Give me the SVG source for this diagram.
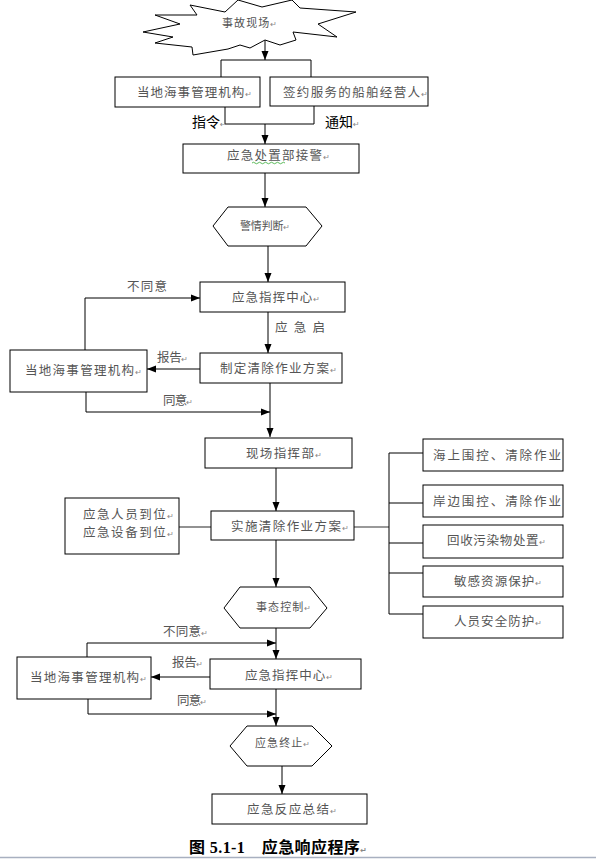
<svg xmlns="http://www.w3.org/2000/svg" width="596" height="859" viewBox="0 0 596 859">
<defs>
<marker id="ah" markerUnits="userSpaceOnUse" markerWidth="10" markerHeight="8" refX="9" refY="4" orient="auto">
<path d="M0,0.5 L9,4 L0,7.5 z" fill="#000"/>
</marker>
<style>
.box{fill:#fff;stroke:#000;stroke-width:1}
.ln{fill:none;stroke:#000;stroke-width:1}
.ar{fill:none;stroke:#000;stroke-width:1;marker-end:url(#ah)}
.gl{fill:none;stroke:#777;stroke-width:1.6}
.t{font-family:"Noto Sans CJK SC","Liberation Sans",sans-serif;font-size:12.5px;fill:#555}
.s{font-family:"Noto Sans CJK SC","Liberation Sans",sans-serif;font-size:11px;fill:#555}
.k{font-family:"Noto Sans CJK SC","Liberation Sans",sans-serif;font-size:14px;fill:#000}
.r{font-family:"DejaVu Sans",sans-serif;font-size:8px;fill:#888}
.cap{font-family:"Liberation Serif","Noto Sans CJK SC",serif;font-size:16px;font-weight:bold;fill:#000}
</style>
</defs>
<rect x="0" y="0" width="596" height="859" fill="#fff"/>

<g id="connectors">
<path class="ar" d="M265,40 V60"/>
<path class="ln" d="M221,77 V60 H311 V77"/>
<path class="ln" d="M225,107 V124 H314 V106"/>
<path class="ar" d="M265,124 V144"/>
<path class="ar" d="M265,173 V207"/>
<path class="ar" d="M268,246 V282"/>
<path class="ar" d="M268,312 V353"/>
<path class="ar" d="M200,369 H147"/>
<path class="ar" d="M85,351 V298 H200"/>
<path class="ar" d="M86,392 V412 H270"/>
<path class="ar" d="M270,383 V437"/>
<path class="ar" d="M276,468 V511"/>
<path class="gl" d="M179,527 H211"/>
<path class="gl" d="M354,527 H389"/>
<path class="ln" d="M389,453 V614 M389,453 H423 M389,503 H423 M389,543 H423 M389,573 H423 M389,614 H423"/>
<path class="ar" d="M276,540 V587"/>
<path class="ar" d="M276,628 V659"/>
<path class="ar" d="M87,657 V643 H276"/>
<path class="ar" d="M210,677 H151"/>
<path class="ar" d="M88,699 V714 H276"/>
<path class="ar" d="M276,689 V726"/>
<path class="ar" d="M282,766 V794"/>
</g>

<g id="n-accident">
<path class="box" d="M143,32 L180,24 L155,15 L197,15 L190,5 L225,12 L238,0 L262,7 L292,0 L300,8 L356,12 L318,24 L337,37 L293,32 L296,40 L280,45 L265,40 L250,48 L240,45 L228,49 L193,55 L192,47 L155,43 L173,37 Z"/>
<text class="s" x="222" y="27" textLength="55" lengthAdjust="spacing">事故现场<tspan class="r">↵</tspan></text>
</g>

<g id="n-msa1">
<rect class="box" x="115" y="77" width="145" height="30"/>
<text class="t" x="137" y="97" textLength="115" lengthAdjust="spacing">当地海事管理机构<tspan class="r">↵</tspan></text>
</g>
<g id="n-operator">
<rect class="box" x="270" y="77" width="158" height="29"/>
<text class="t" x="283" y="97" textLength="145" lengthAdjust="spacing">签约服务的船舶经营人<tspan class="r">↵</tspan></text>
</g>
<text class="k" x="192" y="127">指令<tspan class="r">↵</tspan></text>
<text class="k" x="325" y="127">通知<tspan class="r">↵</tspan></text>

<g id="n-receive">
<rect class="box" x="183" y="144" width="176" height="29"/>
<text class="t" x="227" y="160" textLength="103" lengthAdjust="spacing">应急处置部接警<tspan class="r">↵</tspan></text>
<path d="M252,163 q1.5,-1.5 3,0 t3,0 t3,0 t3,0 t3,0 t3,0 t3,0 t3,0 t3,0 t3,0 t3,0" fill="none" stroke="#3a3" stroke-width="0.8"/>
</g>

<g id="n-judge">
<polygon class="box" points="213,226 228,207 306,207 322,226 306,246 228,246"/>
<text class="s" x="240" y="230" textLength="50" lengthAdjust="spacing">警情判断<tspan class="r">↵</tspan></text>
</g>

<g id="n-command1">
<rect class="box" x="200" y="282" width="145" height="30"/>
<text class="t" x="232" y="302" textLength="88" lengthAdjust="spacing">应急指挥中心<tspan class="r">↵</tspan></text>
</g>
<text class="t" x="275" y="332" textLength="50" lengthAdjust="spacing">应急启</text>

<g id="n-plan">
<rect class="box" x="200" y="353" width="142" height="30"/>
<text class="t" x="220" y="373" textLength="117" lengthAdjust="spacing">制定清除作业方案<tspan class="r">↵</tspan></text>
</g>
<g id="n-msa2">
<rect class="box" x="10" y="350" width="137" height="42"/>
<text class="t" x="25" y="375" textLength="117" lengthAdjust="spacing">当地海事管理机构<tspan class="r">↵</tspan></text>
</g>
<text class="t" x="127" y="291" textLength="40" lengthAdjust="spacing">不同意</text>
<text class="t" x="157" y="362" textLength="31" lengthAdjust="spacing">报告<tspan class="r">↵</tspan></text>
<text class="t" x="163" y="405" textLength="30" lengthAdjust="spacing">同意<tspan class="r">↵</tspan></text>

<g id="n-site">
<rect class="box" x="205" y="438" width="147" height="30"/>
<text class="t" x="246" y="458" textLength="76" lengthAdjust="spacing">现场指挥部<tspan class="r">↵</tspan></text>
</g>

<g id="n-resources">
<rect class="box" x="65" y="498" width="114" height="56"/>
<text class="t" x="83" y="519" textLength="91" lengthAdjust="spacing">应急人员到位<tspan class="r">↵</tspan></text>
<text class="t" x="83" y="537" textLength="91" lengthAdjust="spacing">应急设备到位<tspan class="r">↵</tspan></text>
</g>

<g id="n-execute">
<rect class="box" x="211" y="511" width="143" height="29"/>
<text class="t" x="231" y="531" textLength="118" lengthAdjust="spacing">实施清除作业方案<tspan class="r">↵</tspan></text>
</g>

<g id="n-sea">
<rect class="box" x="423" y="439" width="140" height="32"/>
<text class="t" x="433" y="460" textLength="128" lengthAdjust="spacing">海上围控、清除作业</text>
</g>
<g id="n-shore">
<rect class="box" x="423" y="485" width="140" height="32"/>
<text class="t" x="433" y="506" textLength="128" lengthAdjust="spacing">岸边围控、清除作业</text>
</g>
<g id="n-waste">
<rect class="box" x="423" y="525" width="140" height="33"/>
<text class="t" x="447" y="545" textLength="99" lengthAdjust="spacing">回收污染物处置<tspan class="r">↵</tspan></text>
</g>
<g id="n-sensitive">
<rect class="box" x="423" y="566" width="140" height="31"/>
<text class="t" x="454" y="586" textLength="88" lengthAdjust="spacing">敏感资源保护<tspan class="r">↵</tspan></text>
</g>
<g id="n-safety">
<rect class="box" x="423" y="606" width="140" height="32"/>
<text class="t" x="454" y="626" textLength="88" lengthAdjust="spacing">人员安全防护<tspan class="r">↵</tspan></text>
</g>

<g id="n-control">
<polygon class="box" points="224,608 240,587 310,587 327,608 310,628 240,628"/>
<text class="s" x="256" y="611" textLength="55" lengthAdjust="spacing">事态控制<tspan class="r">↵</tspan></text>
</g>

<g id="n-msa3">
<rect class="box" x="17" y="657" width="134" height="42"/>
<text class="t" x="30" y="682" textLength="117" lengthAdjust="spacing">当地海事管理机构<tspan class="r">↵</tspan></text>
</g>
<g id="n-command2">
<rect class="box" x="210" y="659" width="151" height="30"/>
<text class="t" x="245" y="680" textLength="88" lengthAdjust="spacing">应急指挥中心<tspan class="r">↵</tspan></text>
</g>
<text class="t" x="163" y="636" textLength="45" lengthAdjust="spacing">不同意<tspan class="r">↵</tspan></text>
<text class="t" x="172" y="667" textLength="31" lengthAdjust="spacing">报告<tspan class="r">↵</tspan></text>
<text class="t" x="177" y="705" textLength="30" lengthAdjust="spacing">同意<tspan class="r">↵</tspan></text>

<g id="n-end">
<polygon class="box" points="230,746 247,726 312,726 332,746 312,766 247,766"/>
<text class="s" x="255" y="747" textLength="55" lengthAdjust="spacing">应急终止<tspan class="r">↵</tspan></text>
</g>

<g id="n-summary">
<rect class="box" x="212" y="794" width="155" height="30"/>
<text class="t" x="247" y="814" textLength="90" lengthAdjust="spacing">应急反应总结<tspan class="r">↵</tspan></text>
</g>

<text class="cap" x="189" y="853" textLength="178" lengthAdjust="spacing">图 5.1-1　应急响应程序<tspan class="r">↵</tspan></text>
<line x1="0" y1="857.5" x2="596" y2="857.5" stroke="#a8b0c0" stroke-width="1.5"/>
</svg>
